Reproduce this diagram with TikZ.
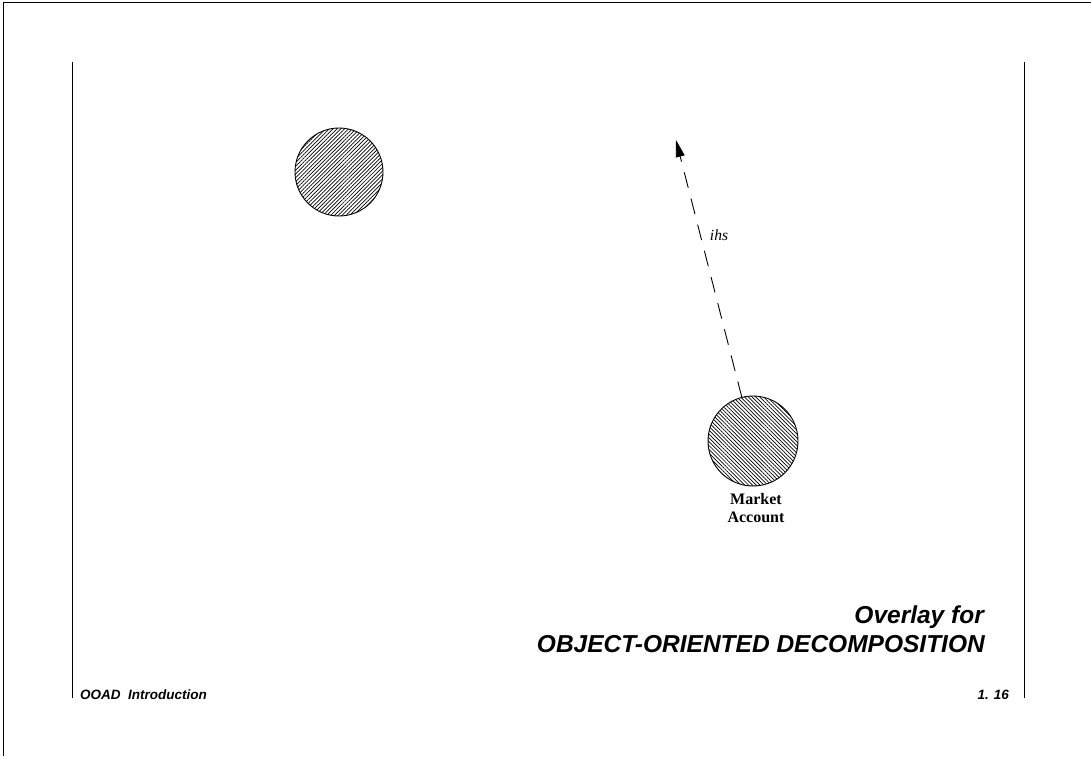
\documentclass[tikz,border=0pt]{standalone}
\usepackage{fontspec}
\setmainfont{Liberation Serif}
\setsansfont{Liberation Sans}
\usetikzlibrary{arrows.meta,patterns.meta}

\tikzset{
  frameline/.style={line width=1.4pt, black},
  sideline/.style={line width=1pt, black},
  object/.style={circle, draw, line width=0.9pt, inner sep=0pt, minimum size=#1},
  hatchA/.style={pattern={Lines[angle=45,distance=2.7pt,line width=0.7pt]}},
  hatchB/.style={pattern={Lines[angle=-45,distance=2.7pt,line width=0.7pt]}},
  msgflow/.style={line width=0.9pt, dash pattern=on 16pt off 11pt,
    -{Triangle[length=17pt,width=9pt]}},
  flowlabel/.style={font=\fontsize{15.5}{17}\selectfont\itshape, inner sep=0pt},
  objlabel/.style={font=\fontsize{16}{18}\selectfont\bfseries, align=center, inner sep=0pt},
  titletext/.style={font=\fontsize{24.5}{24}\selectfont\sffamily\bfseries\itshape, inner sep=0pt},
  foottext/.style={font=\fontsize{13.5}{14}\selectfont\sffamily\bfseries\itshape, inner sep=0pt}
}

\begin{document}
\begin{tikzpicture}[x=1pt,y=-1pt]
\useasboundingbox (0,0) rectangle (1091,756);

% page frame (top and left edges)
\draw[frameline] (3.5,756) -- (3.5,2.5) -- (1091,2.5);

% side rules of the slide
\coordinate (lt) at (72,62);
\coordinate (lb) at (72,698);
\coordinate (rt) at (1024,62);
\coordinate (rb) at (1024,698);
\draw[sideline] (lt) -- (lb);
\draw[sideline] (rt) -- (rb);

% objects
\node[object=88pt, hatchA] (objA) at (339,172) {};
\node[object=90pt, hatchB] (market) at (753,441) {};
\node[objlabel, anchor=north] (marketlbl) at (756,493) {Market\\Account};

% message flow
\coordinate (tip) at (676,140);
\draw[msgflow] (market) -- (tip);
\node[flowlabel] (ihs) at (719,235) {ihs};

% title
\node[titletext, anchor=base east] (t1) at (984,623) {Overlay for};
\node[titletext, anchor=base east] (t2) at (985,652) {OBJECT-ORIENTED DECOMPOSITION};

% footer
\node[foottext, anchor=base west] (f1) at (80,699) {OOAD\ \ Introduction};
\node[foottext, anchor=base east] (f2) at (1009,699) {1. 16};
\end{tikzpicture}
\end{document}
